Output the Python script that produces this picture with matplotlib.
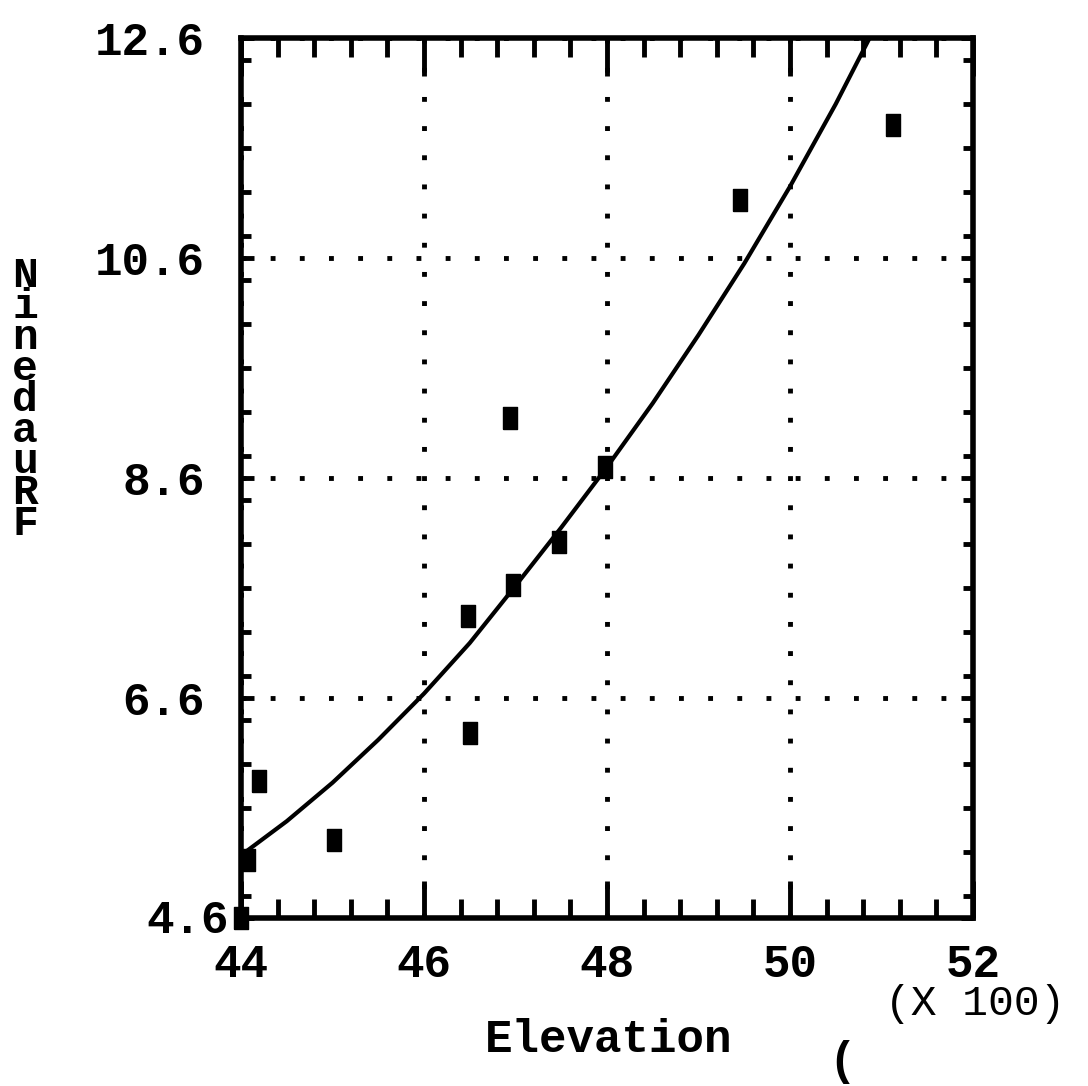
import matplotlib
matplotlib.use('Agg')
import matplotlib.pyplot as plt
from matplotlib.ticker import MultipleLocator
from matplotlib.path import Path
from matplotlib.transforms import ScaledTranslation

# observed points
elev = [44.0, 44.08, 44.2, 45.02, 46.48, 46.5, 46.94, 46.97, 47.48, 47.98, 49.45, 51.13]
fraud = [4.6, 5.13, 5.85, 5.31, 7.35, 6.28, 9.15, 7.63, 8.02, 8.7, 11.13, 11.81]

# fitted curve
fit_x = [44.0, 44.5, 45.0, 45.5, 46.0, 46.5, 47.0, 47.5, 48.0, 48.5,
         49.0, 49.5, 50.0, 50.5, 50.87]
fit_y = [5.17, 5.48, 5.83, 6.22, 6.64, 7.10, 7.62, 8.15, 8.70, 9.28,
         9.90, 10.55, 11.25, 12.00, 12.60]

xticks = [44, 46, 48, 50, 52]
yticks = [4.6, 6.6, 8.6, 10.6, 12.6]
ylab_letters = ['N', 'i', 'n', 'e', 'd', 'a', 'u', 'R', 'F']

font = 'Liberation Mono'
fs = 33

fig = plt.figure(figsize=(10.88, 10.86), dpi=100)
ax = fig.add_axes([241 / 1088, 168 / 1086, 732 / 1088, 880 / 1086])

ax.plot(fit_x, fit_y, color='black', lw=3, solid_joinstyle='round')
rect = Path([(-0.65, -1), (0.65, -1), (0.65, 1), (-0.65, 1), (-0.65, -1)])
ax.plot(elev, fraud, ls='none', marker=rect, ms=15.5, color='black', clip_on=False, zorder=5)

ax.set_xlim(44, 52)
ax.set_ylim(4.6, 12.6)
ax.set_xticks(xticks)
ax.set_yticks(yticks)
ax.set_xticklabels([str(v) for v in xticks], fontfamily=font, fontweight='bold', fontsize=fs)
ax.set_yticklabels(['%.1f' % v for v in yticks], fontfamily=font, fontweight='bold', fontsize=fs)
ax.xaxis.set_minor_locator(MultipleLocator(0.4))
ax.yaxis.set_minor_locator(MultipleLocator(0.4))

ax.tick_params(axis='x', which='major', direction='in', top=True, length=27, width=3.5, pad=18)
ax.tick_params(axis='x', which='minor', direction='in', top=True, length=14, width=3.5)
ax.tick_params(axis='y', which='major', direction='in', right=True, length=9, width=3.5, pad=26)
ax.tick_params(axis='y', which='minor', direction='in', right=True, length=7, width=3.5)

# the lowest y label sits closer to the axis in the original
lab = ax.get_yticklabels()[0]
lab.set_transform(lab.get_transform() + ScaledTranslation(0.24, 0.02, fig.dpi_scale_trans))

for s in ax.spines.values():
    s.set_linewidth(4)

ax.grid(True, which='major', color='black', lw=3.5, ls=(0, (1, 5)))

fig.text(25 / 1088, 1 - 400 / 1086, '\n'.join(ylab_letters), fontfamily=font,
         fontweight='bold', fontsize=fs - 2, ha='center', va='center', linespacing=0.71)

fig.text(609 / 1088, 1 - 1040 / 1086, 'Elevation', fontfamily=font, fontweight='bold',
         fontsize=fs, ha='center', va='center')
fig.text(842 / 1088, 1 - 1062 / 1086, '(', fontfamily=font, fontweight='bold',
         fontsize=fs, ha='center', va='center')
fig.text(975 / 1088, 1 - 1004 / 1086, '(X 100)', fontfamily=font,
         fontsize=fs - 2, ha='center', va='center')

fig.savefig('out.png', dpi=100)
